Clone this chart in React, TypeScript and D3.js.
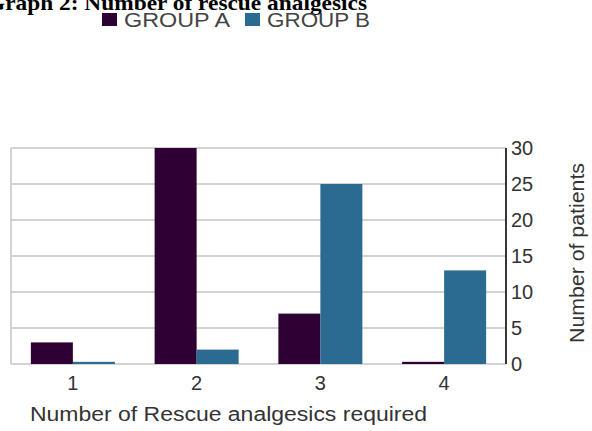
import React from "react";
import * as d3 from "d3";

const categories = ["1", "2", "3", "4"];
const groupA = [3, 30, 7, 0.3];
const groupB = [0.3, 2, 25, 13];
const seriesNames = ["GROUP A", "GROUP B"];
const seriesColors = ["#2e0033", "#2b6a91"];
const yTicks = [0, 5, 10, 15, 20, 25, 30];

export default function App() {
  const W = 592, H = 431;
  const left = 11, right = 506, top = 148, bottom = 364;
  const x = d3.scaleBand<string>().domain(categories).range([left, right]).paddingInner(0).paddingOuter(0);
  const y = d3.scaleLinear().domain([0, 30]).range([bottom, top]);
  const barW = 42;
  const series = [groupA, groupB];
  const font = "'Liberation Sans', Arial, sans-serif";
  return (
    <svg width={W} height={H} style={{ position: "absolute", left: 0, top: 0, background: "#fff" }}>
      <rect x={0} y={0} width={W} height={H} fill="#fff" />
      <text x={-13} y={10} fontFamily="'Liberation Serif', 'Times New Roman', serif" fontWeight="bold" fontSize={21} textLength={380} lengthAdjust="spacingAndGlyphs" fill="#000">Graph 2: Number of rescue analgesics</text>
      {/* legend */}
      <rect x={102} y={13} width={15} height={13} fill={seriesColors[0]} />
      <text x={124} y={27} fontFamily={font} fontSize={20} fill="#444" textLength={106} lengthAdjust="spacingAndGlyphs">{seriesNames[0]}</text>
      <rect x={245} y={13} width={15} height={13} fill={seriesColors[1]} />
      <text x={267} y={27} fontFamily={font} fontSize={20} fill="#444" textLength={103} lengthAdjust="spacingAndGlyphs">{seriesNames[1]}</text>
      {/* grid */}
      {yTicks.map((t) => (
        <line key={t} x1={left} x2={right} y1={y(t)} y2={y(t)} stroke="#c4c4c4" strokeWidth={1.5} />
      ))}
      <line x1={left} x2={left} y1={top} y2={bottom} stroke="#c4c4c4" strokeWidth={1.5} />
      {/* bars */}
      {categories.map((c, i) => {
        const cx = (x(c) as number) + x.bandwidth() / 2;
        return series.map((s, j) => (
          <rect key={c + j} x={cx - barW + j * barW} y={y(s[i])} width={barW} height={bottom - y(s[i])} fill={seriesColors[j]} />
        ));
      })}
      {/* right axis */}
      <line x1={right} x2={right} y1={top} y2={bottom} stroke="#222" strokeWidth={1.8} />
      {yTicks.map((t) => (
        <text key={t} x={511} y={y(t) + 7} fontFamily={font} fontSize={20} fill="#333">{t}</text>
      ))}
      {categories.map((c) => (
        <text key={c} x={(x(c) as number) + x.bandwidth() / 2} y={390} textAnchor="middle" fontFamily={font} fontSize={20} fill="#333">{c}</text>
      ))}
      <text x={30} y={421} fontFamily={font} fontSize={20} fill="#333" textLength={397} lengthAdjust="spacingAndGlyphs">Number of Rescue analgesics required</text>
      <text transform="translate(584,253) rotate(-90)" textAnchor="middle" fontFamily={font} fontSize={20} fill="#333" textLength={180} lengthAdjust="spacingAndGlyphs">Number of patients</text>
    </svg>
  );
}
